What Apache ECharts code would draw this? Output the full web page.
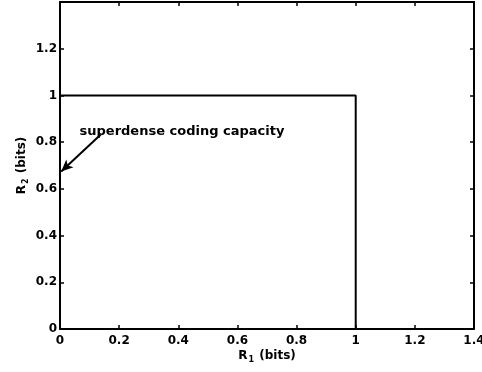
<!DOCTYPE html>
<html><head><meta charset="utf-8">
<script src="https://cdn.jsdelivr.net/npm/echarts@6/dist/echarts.min.js"></script>
<style>html,body{margin:0;padding:0;background:#fff}#c{width:482px;height:372px}</style>
</head><body><div id="c"></div>
<script>
const xTicks = [0, 0.2, 0.4, 0.6, 0.8, 1, 1.2, 1.4];
const yTicks = [0, 0.2, 0.4, 0.6, 0.8, 1, 1.2];
const regionX = [0, 1, 1];
const regionY = [1, 1, 0];
const annotationText = 'superdense coding capacity';
const arrowFrom = [0.138, 0.833];
const arrowTo = [0.004, 0.674];
const textAt = [0.066, 0.845];

const font = 'DejaVu Sans, Verdana, sans-serif';
const chart = echarts.init(document.getElementById('c'));
const fmt = list => v => {
  const r = Math.round(v * 10) / 10;
  return list.some(t => Math.abs(t - r) < 1e-9) ? String(r) : '';
};
const axisCommon = {
  type: 'value', min: 0, max: 1.4, interval: 0.2,
  axisLine: {show: true, onZero: false, lineStyle: {color: '#000', width: 2}},
  axisTick: {show: true, inside: true, length: 4, lineStyle: {color: '#000', width: 1.5}},
  splitLine: {show: false}
};
chart.setOption({
  animation: false,
  backgroundColor: '#fff',
  grid: {left: 60, right: 8, top: 2, bottom: 43, containLabel: false, outerBoundsMode: 'none'},
  xAxis: [
    Object.assign({}, axisCommon, {position: 'bottom',
      axisLabel: {color: '#000', fontFamily: font, fontWeight: 'bold', fontSize: 12, margin: 6, formatter: fmt(xTicks)},
      name: '{r|R}{s|1}{r| (bits)}', nameLocation: 'middle', nameGap: 19, nameMoveOverlap: false,
      nameTextStyle: {rich: {
        r: {color: '#000', fontFamily: font, fontWeight: 'bold', fontSize: 12},
        s: {color: '#000', fontFamily: font, fontWeight: 'bold', fontSize: 8, padding: [8, 1, 0, 1]}
      }}}),
    Object.assign({}, axisCommon, {position: 'top', axisLabel: {show: false}})
  ],
  yAxis: [
    Object.assign({}, axisCommon, {position: 'left',
      axisLabel: {color: '#000', fontFamily: font, fontWeight: 'bold', fontSize: 12, margin: 3, formatter: fmt(yTicks)},
      name: '{r|R}{s|2}{r| (bits)}', nameLocation: 'middle', nameGap: 30, nameMoveOverlap: false,
      nameTextStyle: {rich: {
        r: {color: '#000', fontFamily: font, fontWeight: 'bold', fontSize: 12},
        s: {color: '#000', fontFamily: font, fontWeight: 'bold', fontSize: 8, padding: [8, 1, 0, 1]}
      }}}),
    Object.assign({}, axisCommon, {position: 'right', axisLabel: {show: false}})
  ],
  series: [
    {
      type: 'line', xAxisIndex: 0, yAxisIndex: 0,
      data: regionX.map((x, i) => [x, regionY[i]]),
      symbol: 'none',
      lineStyle: {color: '#000', width: 2},
      markLine: {
        silent: true,
        symbol: ['none', 'arrow'], symbolSize: [8, 12],
        lineStyle: {color: '#000', width: 2, type: 'solid'},
        label: {show: false},
        data: [[{coord: arrowFrom}, {coord: arrowTo}]]
      },
      markPoint: {
        silent: true,
        symbol: 'circle', symbolSize: 0,
        label: {show: true, position: 'right', distance: 0, formatter: annotationText,
          color: '#000', fontFamily: font, fontWeight: 'bold', fontSize: 13},
        data: [{coord: textAt}]
      }
    }
  ]
});
</script></body></html>
